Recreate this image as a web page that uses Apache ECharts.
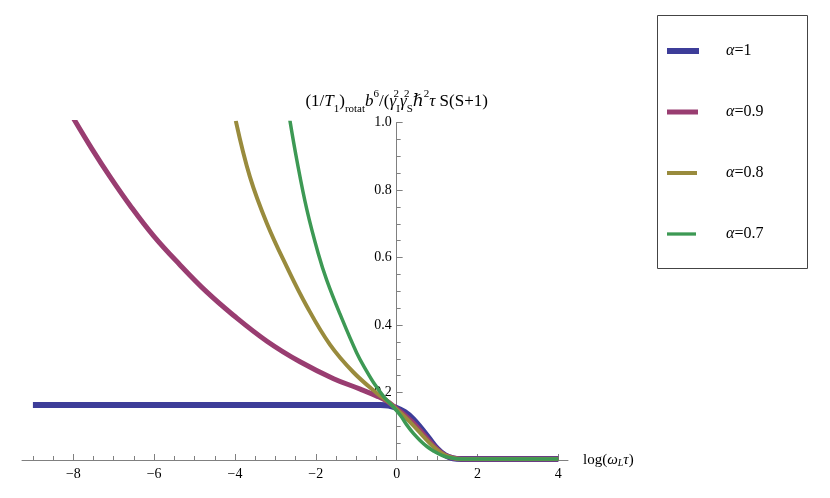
<!DOCTYPE html>
<html>
<head>
<meta charset="utf-8">
<script src="https://cdn.jsdelivr.net/npm/echarts@6/dist/echarts.min.js"></script>
<style>
  html, body { margin: 0; padding: 0; background: #fff; }
  #chart { width: 830px; height: 498px; }
</style>
</head>
<body>
<div id="chart"></div>
<script>
// log(omega_L tau) positions and curve values
const blueX = [-9, -4, -1, -0.4, -0.2, 0, 0.2, 0.4, 0.6, 0.8, 1.0, 1.2, 1.4, 1.6, 2, 3, 4];
const blueY = [0.163, 0.163, 0.163, 0.163, 0.161, 0.154, 0.142, 0.122, 0.094, 0.064, 0.034, 0.014, 0.005, 0.003, 0.003, 0.003, 0.003];

const magentaX = [-8.0, -7.54, -7.09, -6.6, -6.02, -5.36, -4.7, -4.04, -3.21, -2.39, -1.56, -0.9, -0.5, -0.25, 0, 0.2, 0.4, 0.6, 0.8, 1.0, 1.2, 1.4, 1.6, 2, 3, 4];
const magentaY = [1.013, 0.922, 0.839, 0.755, 0.665, 0.578, 0.498, 0.429, 0.352, 0.291, 0.241, 0.210, 0.190, 0.175, 0.152, 0.133, 0.111, 0.085, 0.057, 0.032, 0.014, 0.006, 0.003, 0.003, 0.003, 0.003];

const oliveX = [-3.98, -3.63, -3.21, -2.72, -2.22, -1.65, -1.07, -0.49, -0.2, 0, 0.2, 0.4, 0.6, 0.8, 1.0, 1.2, 1.4, 1.6, 2, 3, 4];
const oliveY = [1.005, 0.839, 0.701, 0.573, 0.455, 0.342, 0.260, 0.198, 0.172, 0.150, 0.128, 0.104, 0.078, 0.052, 0.030, 0.014, 0.006, 0.003, 0.003, 0.003, 0.003];

const greenX = [-2.66, -2.47, -2.22, -1.94, -1.73, -1.40, -0.99, -0.75, -0.53, -0.3, -0.1, 0.1, 0.25, 0.42, 0.58, 0.75, 0.91, 1.12, 1.32, 1.6, 2, 3, 4];
const greenY = [1.02, 0.889, 0.741, 0.612, 0.533, 0.432, 0.318, 0.265, 0.222, 0.185, 0.160, 0.131, 0.104, 0.078, 0.058, 0.040, 0.027, 0.014, 0.007, 0.003, 0.003, 0.003, 0.003];

const seriesNames = ['α=1', 'α=0.9', 'α=0.8', 'α=0.7'];
const xMajorTicks = [-8, -6, -4, -2, 0, 2, 4];
const xMinorTicks = [-9, -8.5, -7.5, -7, -6.5, -5.5, -5, -4.5, -3.5, -3, -2.5, -1.5, -1, -0.5, 0.5, 1, 1.5, 2.5, 3, 3.5];

const colors = ['#3d3d99', '#993d71', '#998b3d', '#3d9954'];
const widths = [6, 5, 4, 3.5];
const legendRowsY = [51, 112, 173, 234];
const legendIconW = [32, 31, 30, 29];
const legendIconH = [6, 5, 4, 3.3];

const FONT = '"Liberation Serif", "DejaVu Serif", serif';

const X_MIN = -9.27, X_MAX = 4.24;
const GRID = { left: 22, right: 262, top: 122.5, bottom: 38 };
// the y axis sits on x = 0 but ECharts keeps its labels at the grid edge, so pull them in
const zeroPx = GRID.left + (0 - X_MIN) / (X_MAX - X_MIN) * (830 - GRID.left - GRID.right);

const zip = (xs, ys) => xs.map((x, i) => [x, ys[i]]);
const curves = [zip(blueX, blueY), zip(magentaX, magentaY), zip(oliveX, oliveY), zip(greenX, greenY)];

const chart = echarts.init(document.getElementById('chart'));

const axisColor = '#808080';

const option = {
  animation: false,
  grid: GRID,
  xAxis: [
    {
      type: 'value',
      min: X_MIN,
      max: X_MAX,
      name: 'log({it|ω}{sub|L}{it|τ})',
      nameLocation: 'end',
      nameGap: 15,
      nameTextStyle: {
        color: '#000',
        fontFamily: FONT,
        fontSize: 15,
        rich: {
          it: { fontFamily: FONT, fontSize: 15, fontStyle: 'italic', color: '#000' },
          sub: { fontFamily: FONT, fontSize: 10, fontStyle: 'italic', color: '#000', padding: [7, 0, 0, 0] }
        }
      },
      axisLine: { lineStyle: { color: axisColor, width: 1 } },
      axisTick: { inside: true, length: 6, customValues: xMajorTicks, lineStyle: { color: axisColor } },
      axisLabel: {
        customValues: xMajorTicks,
        margin: 7,
        color: '#000',
        fontFamily: FONT,
        fontSize: 14,
        formatter: v => (v < 0 ? '\u2212' + Math.abs(v) : String(v))
      },
      splitLine: { show: false }
    },
    {
      type: 'value',
      min: X_MIN,
      max: X_MAX,
      position: 'bottom',
      axisLine: { show: false },
      axisTick: { inside: true, length: 4, customValues: xMinorTicks, lineStyle: { color: axisColor } },
      axisLabel: { show: false },
      splitLine: { show: false }
    }
  ],
  yAxis: {
    type: 'value',
    min: 0,
    max: 1,
    interval: 0.2,
    name: '(1/{it|T}{sub|1}){sub|rotat}{it|b}{sup|6}/({it|γ}{supz|2}{sub|I}{it|γ}{supz|2}{sub|S}ℏ{sup|2}{it|τ} S(S+1)',
    nameLocation: 'end',
    nameGap: 8,
    nameTextStyle: {
      color: '#000',
      fontFamily: FONT,
      fontSize: 17,
      lineHeight: 26,
      align: 'center',
      rich: {
        it: { fontFamily: FONT, fontSize: 17, fontStyle: 'italic', color: '#000', lineHeight: 26 },
        sub: { fontFamily: FONT, fontSize: 11, color: '#000', verticalAlign: 'bottom', lineHeight: 16 },
        sup: { fontFamily: FONT, fontSize: 11, color: '#000', verticalAlign: 'top', lineHeight: 16 },
        supz: { fontFamily: FONT, fontSize: 11, color: '#000', verticalAlign: 'top', lineHeight: 16, width: 0.1 }
      }
    },
    axisLine: { onZero: true, lineStyle: { color: axisColor, width: 1 } },
    axisTick: { inside: true, length: 6, lineStyle: { color: axisColor } },
    minorTick: { show: true, splitNumber: 4, length: 4, lineStyle: { color: axisColor } },
    axisLabel: {
      showMinLabel: false,
      margin: 5 - (zeroPx - GRID.left),
      color: '#000',
      fontFamily: FONT,
      fontSize: 14,
      formatter: v => v.toFixed(1)
    },
    splitLine: { show: false },
    minorSplitLine: { show: false }
  },
  legend: seriesNames.map((name, i) => ({
    data: [{ name: name, icon: 'rect', itemStyle: { color: colors[i] } }],
    left: 667,
    top: legendRowsY[i] - 10,
    padding: 0,
    itemWidth: legendIconW[i],
    itemHeight: legendIconH[i],
    selectedMode: false,
    formatter: n => '{a|α}' + n.slice(1),
    textStyle: {
      color: '#000',
      fontFamily: FONT,
      fontSize: 16,
      lineHeight: 20,
      padding: [0, 0, 0, 59 - legendIconW[i] - 5],
      rich: {
        a: { fontFamily: FONT, fontSize: 16, fontStyle: 'italic', color: '#000', lineHeight: 20 }
      }
    }
  })),
  graphic: [
    {
      type: 'rect',
      shape: { x: 657.5, y: 15.5, width: 150, height: 253 },
      style: { fill: 'none', stroke: '#444', lineWidth: 1 },
      silent: true
    }
  ],
  series: curves.map((data, i) => ({
    name: seriesNames[i],
    type: 'line',
    data: data,
    smooth: 0.4,
    showSymbol: false,
    symbol: 'none',
    color: colors[i],
    itemStyle: { color: colors[i] },
    lineStyle: { color: colors[i], width: widths[i], cap: 'butt' },
    z: 2 + i
  }))
};

chart.setOption(option);
</script>
</body>
</html>
